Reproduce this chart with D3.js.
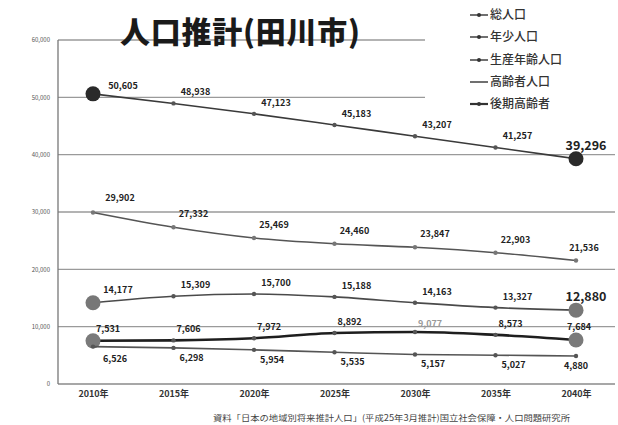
<!DOCTYPE html>
<html>
<head>
<meta charset="utf-8">
<script src="https://cdn.jsdelivr.net/npm/d3@7"></script>
<style>
  html, body { margin: 0; padding: 0; background: #fff; }
  svg { display: block; }
  text { font-family: "Noto Sans CJK JP", "Noto Sans", sans-serif; }
</style>
</head>
<body>
<svg id="chart" width="618" height="425"></svg>
<script>
// Population projection for Tagawa City (persons)
const years = ["2010年", "2015年", "2020年", "2025年", "2030年", "2035年", "2040年"];
const totalPop   = [50605, 48938, 47123, 45183, 43207, 41257, 39296];
const youthPop   = [6526, 6298, 5954, 5535, 5157, 5027, 4880];
const workingPop = [29902, 27332, 25469, 24460, 23847, 22903, 21536];
const elderlyPop = [14177, 15309, 15700, 15188, 14163, 13327, 12880];
const lateElderlyPop = [7531, 7606, 7972, 8892, 9077, 8573, 7684];
const yTicks = [0, 10000, 20000, 30000, 40000, 50000, 60000];
const seriesNames = ["総人口", "年少人口", "生産年齢人口", "高齢者人口", "後期高齢者"];

const svg = d3.select("#chart");

const x = d3.scalePoint().domain(years).range([93, 576]);
const y = d3.scaleLinear().domain([0, 60000]).range([384, 40]);

// Horizontal grid lines (top two stop short of the legend)
const grid = svg.append("g");
yTicks.forEach(t => {
  grid.append("line")
    .attr("x1", 58).attr("x2", t >= 50000 ? 425 : 615)
    .attr("y1", y(t)).attr("y2", y(t))
    .attr("stroke", t === 0 ? "#8a8a8a" : "#9a9a9a")
    .attr("stroke-width", t === 0 ? 1.6 : 1.3);
});
// Vertical axis line
svg.append("line")
  .attr("x1", 58).attr("x2", 58).attr("y1", y(60000)).attr("y2", y(0))
  .attr("stroke", "#777").attr("stroke-width", 1.3);

// Y-axis tick labels
const yAxis = d3.axisLeft(y).tickValues(yTicks).tickSize(0).tickPadding(8)
  .tickFormat(d => d3.format(",")(d));
svg.append("g").attr("transform", "translate(58,0)").call(yAxis)
  .call(g => g.select(".domain").remove())
  .call(g => g.selectAll("text").attr("font-size", 6).attr("fill", "#555")
    .attr("font-family", "'Liberation Sans', sans-serif"));

// X-axis category labels
const xAxis = d3.axisBottom(x).tickSize(0).tickPadding(0);
svg.append("g").attr("transform", "translate(0,392)").call(xAxis)
  .call(g => g.select(".domain").remove())
  .call(g => g.selectAll("text").attr("font-size", 9).attr("font-weight", 700)
    .attr("fill", "#333").attr("dy", "0.6em"));

// Series definitions: data, stroke and label placement
const series = [
  { name: "総人口", values: totalPop, color: "#3a3a3a", width: 1.6, big: "#2a2a2a",
    ldx: 22, ldy: -8, firstDx: 30, firstDy: -5 },
  { name: "生産年齢人口", values: workingPop, color: "#555", width: 1.6, big: null,
    ldx: 20, ldy: -10, firstDx: 27, firstDy: -12 },
  { name: "高齢者人口", values: elderlyPop, color: "#4a4a4a", width: 1.6, big: "#777",
    ldx: 22, ldy: -8, firstDx: 25, firstDy: -10 },
  { name: "後期高齢者", values: lateElderlyPop, color: "#1e1e1e", width: 2.6, big: "#7a7a7a",
    ldx: 15, ldy: -8, firstDx: 15, firstDy: -9 },
  { name: "年少人口", values: youthPop, color: "#555", width: 1.6, big: null,
    ldx: 18, ldy: 13, firstDx: 22, firstDy: 15 }
];

const line = d3.line().x((d, i) => x(years[i])).y(d => y(d)).curve(d3.curveMonotoneX);

series.forEach(s => {
  const g = svg.append("g");
  g.append("path").datum(s.values).attr("d", line)
    .attr("fill", "none").attr("stroke", s.color).attr("stroke-width", s.width);
  // small point markers
  g.selectAll("circle.pt").data(s.values).join("circle").attr("class", "pt")
    .attr("cx", (d, i) => x(years[i])).attr("cy", d => y(d))
    .attr("r", 2.2).attr("fill", s.name === "生産年齢人口" ? "#777" : "#555");
  // large end markers
  if (s.big) {
    [0, s.values.length - 1].forEach(i => {
      g.append("circle").attr("cx", x(years[i])).attr("cy", y(s.values[i]))
        .attr("r", 7.5).attr("fill", s.big);
    });
  }
});

// Value labels
const fmt = d3.format(",");
series.forEach(s => {
  s.values.forEach((v, i) => {
    const last = i === s.values.length - 1;
    let dx = i === 0 ? s.firstDx : s.ldx;
    let dy = i === 0 ? s.firstDy : s.ldy;
    let size = 9, fill = "#222";
    if (last) { dx = 8; }
    if (last && (s.name === "総人口" || s.name === "高齢者人口")) { size = 12.5; dx = 10; dy = -9; }
    if (last && s.name === "年少人口") { dx = 0; dy = 13; }
    if (last && s.name === "後期高齢者") { dx = 3; dy = -10; }
    if (s.name === "後期高齢者" && i === 4) { fill = "#999"; dy = -5; }
    svg.append("text")
      .attr("x", x(years[i]) + dx).attr("y", y(v) + dy)
      .attr("text-anchor", "middle").attr("font-size", size)
      .attr("font-weight", 700).attr("fill", fill)
      .text(fmt(v));
  });
});

// Title
svg.append("text").attr("x", 120).attr("y", 43)
  .attr("font-size", 30).attr("font-weight", 900).attr("fill", "#1a1a1a")
  .attr("textLength", 240).attr("lengthAdjust", "spacing")
  .text("人口推計(田川市)");

// Legend
const legend = svg.append("g").attr("transform", "translate(470,0)");
const legendY = [15, 37, 60, 82, 104];
seriesNames.forEach((n, i) => {
  const row = legend.append("g").attr("transform", `translate(0,${legendY[i]})`);
  row.append("line").attr("x1", 0).attr("x2", 18).attr("y1", 0).attr("y2", 0)
    .attr("stroke", "#333").attr("stroke-width", n === "後期高齢者" ? 2.2 : 1.4);
  if (n !== "高齢者人口") row.append("circle").attr("cx", 9).attr("cy", 0).attr("r", 2).attr("fill", "#333");
  row.append("text").attr("x", 20).attr("y", 0).attr("dy", "0.35em")
    .attr("font-size", 12).attr("font-weight", 500).attr("fill", "#333").text(n);
});

// Source note
svg.append("text").attr("x", 213).attr("y", 421)
  .attr("font-size", 8.5).attr("fill", "#444")
  .attr("textLength", 357).attr("lengthAdjust", "spacingAndGlyphs")
  .text("資料「日本の地域別将来推計人口」(平成25年3月推計)国立社会保障・人口問題研究所");
</script>
</body>
</html>
